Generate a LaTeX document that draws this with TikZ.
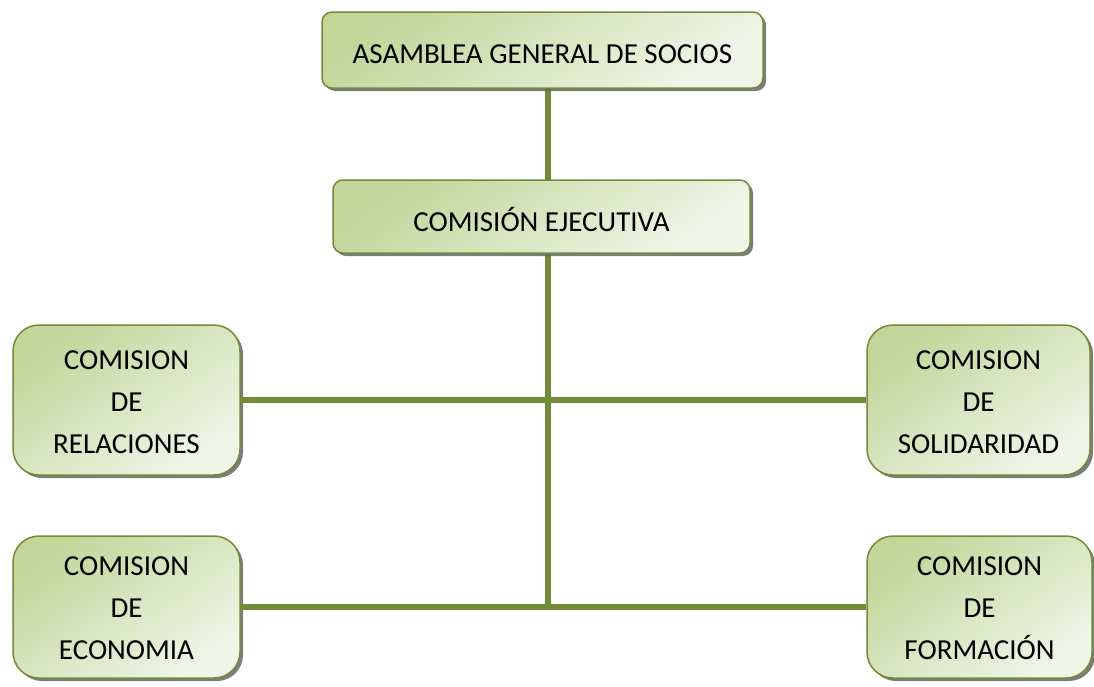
\documentclass[tikz,border=0pt]{standalone}
\usepackage{fontspec}
\setmainfont{Carlito}
\usetikzlibrary{shadows}
\definecolor{edge}{RGB}{112,140,55}
\definecolor{fillA}{RGB}{194,214,154}
\definecolor{fillB}{RGB}{240,245,232}
\tikzset{
  box/.style={draw=edge, line width=1.5pt, top color=fillA, bottom color=fillB, shading angle=35,
    drop shadow={shadow xshift=3pt, shadow yshift=-3pt, fill=black!60, opacity=0.85},
    font=\fontsize{29}{42}\selectfont, align=center, inner sep=0pt},
  widebox/.style={box, rounded corners=10pt},
  sqbox/.style={box, rounded corners=26pt},
  boxtext/.style={font=\fontsize{29}{42}\selectfont, align=center},
  conn/.style={draw=edge, line width=5.5pt}
}
\begin{document}
\begin{tikzpicture}[x=1pt,y=-1pt]
\useasboundingbox (0,0) rectangle (1094,686);
\coordinate (j1) at (548,400);
\coordinate (j2) at (548,608);
\coordinate (vtop) at (548,60);
\draw[conn] (vtop) -- (j2);
\node[sqbox, minimum width=227pt, minimum height=150pt] (L1) at (126.5,400) {};
\node[sqbox, minimum width=223pt, minimum height=150pt] (R1) at (978.5,400) {};
\node[sqbox, minimum width=227pt, minimum height=142pt] (L2) at (126.5,607) {};
\node[sqbox, minimum width=225pt, minimum height=142pt] (R2) at (979.5,607) {};
\draw[conn] (L1.east) -- (R1.west);
\draw[conn] (L2.east) -- (R2.west);
\node[widebox, minimum width=441pt, minimum height=76pt] (top) at (542.5,50) {};
\node[widebox, minimum width=417pt, minimum height=73pt] (exec) at (541.5,216.5) {};
\node[boxtext] (topt) at ([yshift=-4pt]top.center) {ASAMBLEA GENERAL DE SOCIOS};
\node[boxtext] (exect) at ([yshift=-3pt]exec.center) {COMISIÓN EJECUTIVA};
\node[boxtext] (L1t) at ([yshift=-2pt]L1.center) {COMISION\\DE\\RELACIONES};
\node[boxtext] (R1t) at ([yshift=-2pt]R1.center) {COMISION\\DE\\SOLIDARIDAD};
\node[boxtext] (L2t) at ([yshift=-1pt]L2.center) {COMISION\\DE\\ECONOMIA};
\node[boxtext] (R2t) at ([yshift=-1pt]R2.center) {COMISION\\DE\\FORMACIÓN};
\end{tikzpicture}
\end{document}
